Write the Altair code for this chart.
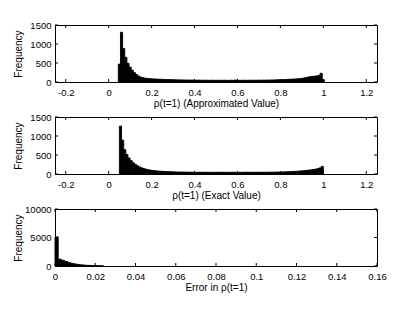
import altair as alt
import pandas as pd
import numpy as np

# ---- data ----
approx_start = 0.045
approx_width = 0.01
approx_counts = [470, 1310, 880, 650, 490, 390, 310, 245, 195, 155,
                 128, 112, 100, 94, 88, 84, 80, 77, 74, 72,
                 69, 67, 64, 63, 61, 59, 58, 56, 55, 55,
                 53, 52, 52, 50, 51, 49, 48, 49, 47, 46,
                 48, 46, 45, 47, 45, 44, 46, 45, 44, 46,
                 45, 43, 47, 44, 52, 46, 44, 45, 47, 44,
                 46, 48, 45, 47, 46, 49, 47, 50, 48, 52,
                 50, 54, 53, 56, 58, 60, 62, 64, 66, 70,
                 73, 76, 80, 84, 88, 95, 105, 118, 130, 140,
                 148, 152, 160, 175, 230, 60]

exact_start = 0.05
exact_width = 0.01
exact_counts = [1260, 890, 640, 510, 420, 350, 295, 250, 215, 185,
                160, 140, 125, 112, 102, 94, 87, 81, 76, 72,
                68, 65, 62, 60, 58, 56, 54, 53, 52, 51,
                50, 49, 48, 47, 47, 46, 46, 45, 45, 44,
                45, 44, 46, 43, 45, 44, 47, 44, 45, 43,
                46, 44, 45, 47, 44, 45, 46, 44, 45, 47,
                45, 46, 44, 46, 47, 45, 46, 47, 46, 47,
                48, 48, 49, 50, 52, 53, 55, 57, 59, 62,
                65, 68, 72, 76, 80, 85, 90, 96, 102, 110,
                118, 128, 140, 160, 200]

error_start = 0.0
error_width = 0.0016
error_counts = [5100, 1200, 1000, 780, 580, 450, 340, 250, 190, 140,
                105, 80, 60, 45, 35]

rho_ticks = [-0.2, 0, 0.2, 0.4, 0.6, 0.8, 1.0, 1.2]
rho_domain = [-0.25, 1.25]
freq_ticks_rho = [0, 500, 1000, 1500]
freq_domain_rho = [0, 1500]

err_ticks = [0, 0.02, 0.04, 0.06, 0.08, 0.1, 0.12, 0.14, 0.16]
err_domain = [0, 0.16]
freq_ticks_err = [0, 5000, 10000]
freq_domain_err = [0, 10000]

titles = ["\u03c1(t=1) (Approximated Value)",
          "\u03c1(t=1) (Exact Value)",
          "Error in \u03c1(t=1)"]

W = 322
H = 57
TICK = 3
FONT = "Liberation Sans"
LABEL = "'' + datum.value"


def hist_df(start, width, counts):
    lo = start + width * np.arange(len(counts))
    return pd.DataFrame({"lo": lo, "hi": lo + width, "count": counts, "base": 0})


def panel(df, xdom, ydom, xticks, yticks, xtitle):
    xs = alt.Scale(domain=xdom, nice=False, zero=False)
    ys = alt.Scale(domain=ydom, nice=False)
    xax = alt.Axis(values=xticks, title=xtitle, labelExpr=LABEL,
                   labelFlush=False, labelOverlap=False,
                   labelPadding=5, titlePadding=2)
    yax = alt.Axis(values=yticks, title="Frequency", labelExpr=LABEL,
                   labelOverlap=False, labelPadding=4,
                   minExtent=30, maxExtent=30, titlePadding=2)
    bars = alt.Chart(df).mark_rect(color="black", stroke="black", strokeWidth=0.9).encode(
        x=alt.X("lo:Q", scale=xs, axis=xax),
        x2="hi:Q",
        y=alt.Y("count:Q", scale=ys, axis=yax),
        y2="base:Q",
    )
    xt = pd.DataFrame({"v": xticks})
    yt = pd.DataFrame({"v": yticks})
    top_t = alt.Chart(xt).mark_rule(color="black").encode(
        x=alt.X("v:Q", scale=xs, axis=xax), y=alt.value(0), y2=alt.value(TICK))
    bot_t = alt.Chart(xt).mark_rule(color="black").encode(
        x=alt.X("v:Q", scale=xs, axis=xax), y=alt.value(H), y2=alt.value(H - TICK))
    left_t = alt.Chart(yt).mark_rule(color="black").encode(
        y=alt.Y("v:Q", scale=ys, axis=yax), x=alt.value(0), x2=alt.value(TICK))
    right_t = alt.Chart(yt).mark_rule(color="black").encode(
        y=alt.Y("v:Q", scale=ys, axis=yax), x=alt.value(W), x2=alt.value(W - TICK))
    return alt.layer(bars, top_t, bot_t, left_t, right_t).properties(width=W, height=H)


p1 = panel(hist_df(approx_start, approx_width, approx_counts), rho_domain,
           freq_domain_rho, rho_ticks, freq_ticks_rho, titles[0])
p2 = panel(hist_df(exact_start, exact_width, exact_counts), rho_domain,
           freq_domain_rho, rho_ticks, freq_ticks_rho, titles[1])
p3 = panel(hist_df(error_start, error_width, error_counts), err_domain,
           freq_domain_err, err_ticks, freq_ticks_err, titles[2])

chart = alt.vconcat(p1, p2, p3, spacing=2).properties(
    padding={"left": 4, "top": 11, "right": 5, "bottom": 5},
    background="white",
).configure_view(
    stroke="black", strokeWidth=1
).configure_axis(
    domain=False, grid=False, ticks=False,
    labelFont=FONT, labelFontSize=9.5, labelColor="black",
    titleFont=FONT, titleFontSize=10, titleFontWeight="normal", titleColor="black"
)

chart.save("out.html", embed_options={"renderer": "svg", "actions": False})
